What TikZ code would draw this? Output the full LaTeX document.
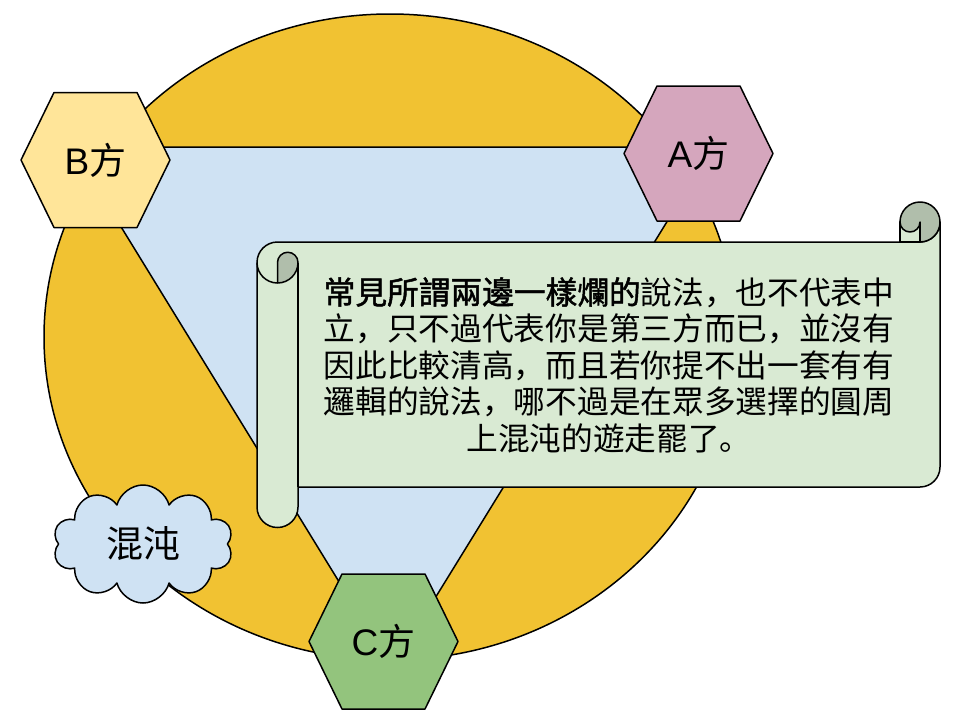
\documentclass[tikz,border=0pt]{standalone}
\usepackage{fontspec}
\setmainfont{Liberation Sans}
\newfontfamily\cjk{Noto Sans CJK SC}
\newfontfamily\cjkbold[FakeBold=1.5]{Noto Sans CJK SC}
\usepackage{tikz}
\usetikzlibrary{shapes.symbols}
\usepackage{color}
\definecolor{ringgold}{HTML}{F1C232}
\definecolor{triblue}{HTML}{CFE2F3}
\definecolor{hexyellow}{HTML}{FFE599}
\definecolor{hexpink}{HTML}{D5A6BD}
\definecolor{hexgreen}{HTML}{93C47D}
\definecolor{scrollgreen}{HTML}{D9EAD3}
\definecolor{curlgrey}{HTML}{B0BEAB}

\begin{document}
\begin{tikzpicture}[x=1pt,y=-1pt]
\tikzstyle{every path}=[line width=1.5pt,line join=round]

\edef\hexw{74.5}
\edef\hexs{41.5}
\edef\hexh{67.5}
\tikzstyle{hexlabel}=[font=\fontsize{37}{40}\selectfont]
\tikzstyle{scrollbody}=[draw,fill=scrollgreen]
\tikzstyle{scrollcurl}=[draw,fill=curlgrey]
\tikzstyle{chaoscloud}=[cloud,draw,fill=triblue,cloud puffs=10,aspect=1.5,
minimum width=180pt,minimum height=118pt,font=\cjk\fontsize{37}{40}\selectfont]

\fill[white] (0,0) rectangle (960,720);
\useasboundingbox (0,0) rectangle (960,720);

%% Ring and triangle
\filldraw[fill=ringgold] (390,337) ellipse [x radius=346, y radius=323];
\filldraw[fill=triblue] (72,147) -- (713,147) -- (392,668) -- cycle;

%% The three sides
\foreach \nm/\cx/\cy/\col/\lab in {hexB/95.5/160/hexyellow/B,
    hexA/698.5/153.5/hexpink/A, hexC/383.5/641.5/hexgreen/C} {
  \filldraw[fill=\col] (\cx-\hexw,\cy) -- (\cx-\hexs,\cy-\hexh)
    -- (\cx+\hexs,\cy-\hexh) -- (\cx+\hexw,\cy) -- (\cx+\hexs,\cy+\hexh)
    -- (\cx-\hexs,\cy+\hexh) -- cycle;
  \node[hexlabel] (\nm) at (\cx,\cy) {\lab\cjk 方};
}

%% Chaos cloud
\node[chaoscloud] (chaos) at (143,544) {混沌};

%% Scroll
\path[scrollbody] (257,262.5) arc[start angle=180,end angle=270,radius=20.5]
  -- (920,242) arc[start angle=90,end angle=0,radius=20]
  -- (940,467) arc[start angle=0,end angle=90,radius=20]
  -- (298,487) -- (298,507) arc[start angle=0,end angle=180,radius=20.5]
  -- cycle;
\draw (298,262.5) -- (298,487);
\draw (257,262.5) arc[start angle=180,end angle=90,radius=20.5];
\path[scrollcurl] (277.5,262.5) arc[start angle=180,end angle=360,radius=10.25]
  arc[start angle=0,end angle=90,radius=20.5] -- cycle;
\path[scrollbody] (900,222) rectangle (920,242);
\path[scrollcurl] (900,222) arc[start angle=180,end angle=360,radius=20]
  arc[start angle=0,end angle=90,radius=20] -- (920,222)
  arc[start angle=0,end angle=180,radius=10] -- cycle;

\node[align=center,font=\cjk\fontsize{31.7}{36.5}\selectfont] (saying) at (609,365)
  {{\cjkbold 常見所謂兩邊一樣爛的}說法，也不代表中\\
   立，只不過代表你是第三方而已，並沒有\\
   因此比較清高，而且若你提不出一套有有\\
   邏輯的說法，哪不過是在眾多選擇的圓周\\
   上混沌的遊走罷了。};
\end{tikzpicture}
\end{document}
